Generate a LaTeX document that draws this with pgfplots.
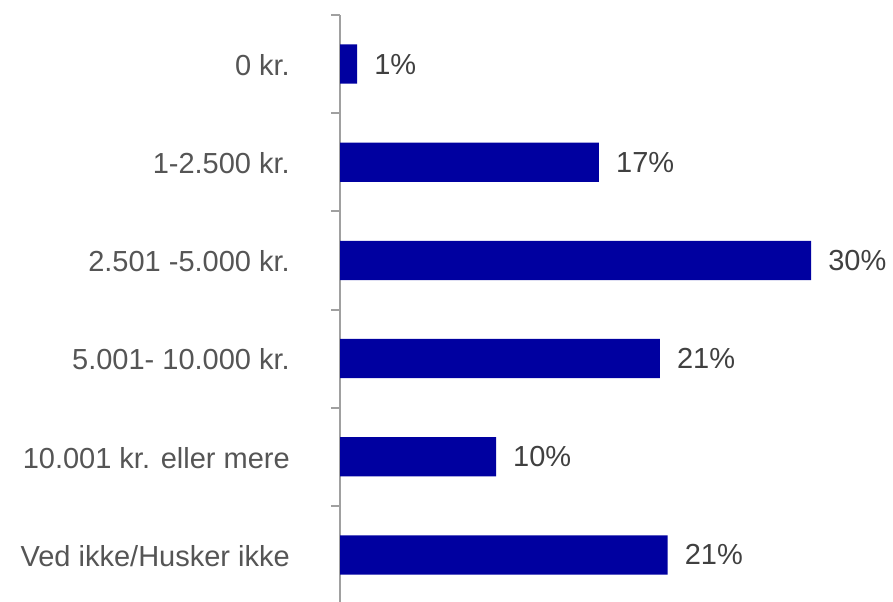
\documentclass[border=0pt]{standalone}
\usepackage{pgfplots}
\pgfplotsset{compat=1.18}
\usepackage{fontspec}
\setmainfont{Liberation Sans}
\definecolor{barblue}{RGB}{0,0,160}
\definecolor{txt}{RGB}{64,64,64}
\definecolor{ticktxt}{RGB}{85,85,85}
\definecolor{axgray}{RGB}{160,160,160}
\begin{document}
\begin{tikzpicture}
\begin{axis}[
  at={(340bp,-2bp)}, anchor=south west,
  scale only axis, width=546bp, height=589bp,
  clip=false,
  xbar, bar width=0.4,
  xmin=0, xmax=35,
  ymin=-0.5, ymax=5.5, y dir=reverse,
  axis x line=none,
  axis y line*=left,
  axis line style={axgray, line width=2bp, -},
  ytick={0,1,2,3,4,5},
  yticklabels={0 kr., 1-2.500 kr., 2.501 -5.000 kr., 5.001- 10.000 kr., 10.001 kr. eller mere, Ved ikke/Husker ikke},
  minor ytick={-0.5,0.5,1.5,2.5,3.5,4.5,5.5},
  major tick length=0pt,
  minor tick length=9bp,
  tick align=outside,
  tick style={axgray, line width=2bp},
  yticklabel style={font=\fontsize{29bp}{34bp}\selectfont, text=ticktxt, anchor=east, inner sep=0pt, xshift=-50bp, yshift=-1bp},
  point meta=explicit symbolic,
  nodes near coords,
  every node near coord/.append style={anchor=west, inner sep=0pt, xshift=17bp, font=\fontsize{29bp}{34bp}\selectfont, text=txt},
]
\addplot[fill=barblue, draw=none] coordinates {
  (1.1,0) [1\%]
  (16.6,1) [17\%]
  (30.2,2) [30\%]
  (20.5,3) [21\%]
  (10.0,4) [10\%]
  (21.0,5) [21\%]
};
\end{axis}
\pgfresetboundingbox
\path (0,0) rectangle (893bp,602bp);
\end{tikzpicture}
\end{document}
